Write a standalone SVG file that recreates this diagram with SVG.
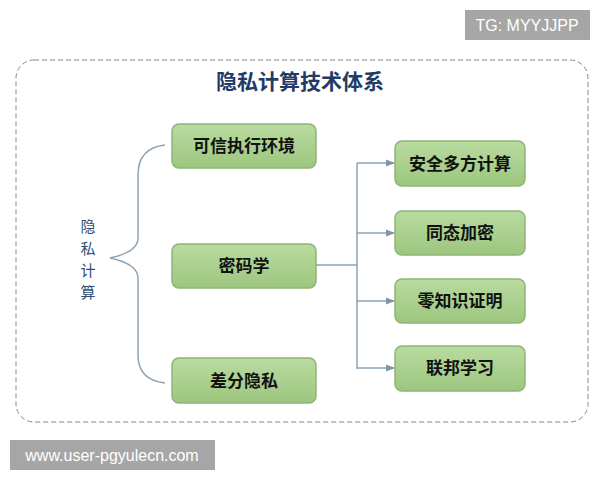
<svg xmlns="http://www.w3.org/2000/svg" width="600" height="480" viewBox="0 0 600 480">
<style>
.box{fill:#a9d18e;stroke:#8fb573;stroke-width:1.5}
.t{font-family:"Noto Sans CJK SC",sans-serif;font-weight:bold;font-size:17px;fill:#111;text-anchor:middle}
.c{fill:none;stroke:#8ea3b3;stroke-width:1.5}
.wm{font-family:"Liberation Sans",sans-serif;font-size:16px;fill:#fff}
</style>
<defs>
<linearGradient id="g" x1="0" y1="0" x2="0" y2="1"><stop offset="0" stop-color="#b9dba0"/><stop offset="1" stop-color="#9cc67f"/></linearGradient>
<marker id="a" viewBox="0 0 10 10" refX="9" refY="5" markerWidth="6" markerHeight="6" orient="auto"><path d="M0,1L10,5L0,9z" fill="#7f95a6"/></marker>
</defs>
<rect width="600" height="480" fill="#fff"/>
<rect x="16" y="60" width="572" height="362" rx="18" fill="none" stroke="#888" stroke-dasharray="5,3"/>
<text x="300" y="89" font-family="Noto Sans CJK SC,sans-serif" font-weight="bold" font-size="21" fill="#1f3b66" text-anchor="middle">隐私计算技术体系</text>
<g id="label" font-family="Noto Sans CJK SC,sans-serif" font-size="15" fill="#2f4f75" text-anchor="middle">
<text x="88" y="232">隐</text><text x="88" y="254">私</text><text x="88" y="276">计</text><text x="88" y="298">算</text>
</g>
<g id="connectors">
<path class="c" d="M165,145 Q138,148 138,175 L138,238 Q138,252 110,258 Q138,264 138,278 L138,355 Q138,380 165,383"/>
<path class="c" d="M316,265 H357 M357,163 V369"/>
<path class="c" marker-end="url(#a)" d="M357,163 H394"/>
<path class="c" marker-end="url(#a)" d="M357,233 H394"/>
<path class="c" marker-end="url(#a)" d="M357,301 H394"/>
<path class="c" marker-end="url(#a)" d="M357,368 H394"/>
</g>
<g id="n1"><rect class="box" style="fill:url(#g)" x="172" y="124" width="144" height="44" rx="7"/><text class="t" x="244" y="152">可信执行环境</text></g>
<g id="n2"><rect class="box" style="fill:url(#g)" x="172" y="244" width="144" height="44" rx="7"/><text class="t" x="244" y="272">密码学</text></g>
<g id="n3"><rect class="box" style="fill:url(#g)" x="172" y="358" width="144" height="45" rx="7"/><text class="t" x="244" y="387">差分隐私</text></g>
<g id="r1"><rect class="box" style="fill:url(#g)" x="395" y="141" width="130" height="45" rx="7"/><text class="t" x="460" y="170">安全多方计算</text></g>
<g id="r2"><rect class="box" style="fill:url(#g)" x="395" y="211" width="130" height="44" rx="7"/><text class="t" x="460" y="239">同态加密</text></g>
<g id="r3"><rect class="box" style="fill:url(#g)" x="395" y="279" width="130" height="44" rx="7"/><text class="t" x="460" y="307">零知识证明</text></g>
<g id="r4"><rect class="box" style="fill:url(#g)" x="395" y="346" width="130" height="45" rx="7"/><text class="t" x="460" y="374">联邦学习</text></g>
<g id="wm">
<rect x="465" y="10" width="125" height="30" fill="#a6a6a6"/><text class="wm" x="527" y="31" text-anchor="middle">TG: MYYJJPP</text>
<rect x="10" y="440" width="205" height="30" fill="#a6a6a6"/><text class="wm" x="112" y="461" text-anchor="middle">www.user-pgyulecn.com</text>
</g>
</svg>
